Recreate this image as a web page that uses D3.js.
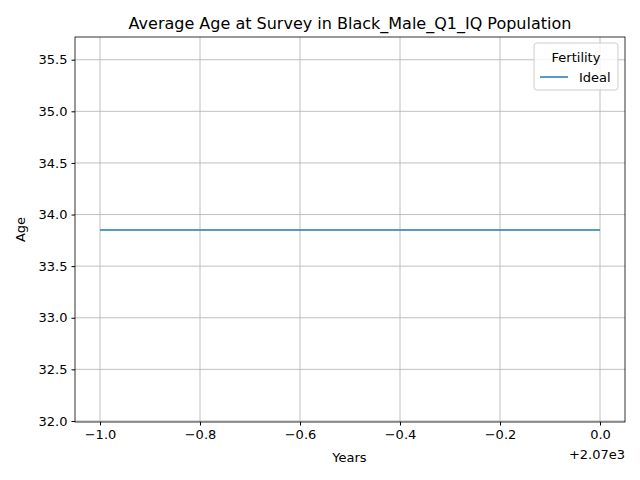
<!DOCTYPE html>
<html><head><meta charset="utf-8">
<script src="https://cdn.jsdelivr.net/npm/d3@7"></script>
<style>body{margin:0;background:#fff}text{font-family:"DejaVu Sans",sans-serif;fill:#000}</style>
</head><body><svg id="c" width="640" height="480"></svg>
<script>
const years = [2069, 2070];
const ideal = [33.85, 33.85];
const xTicks = [-1.0, -0.8, -0.6, -0.4, -0.2, 0.0];
const yTicks = [32.0, 32.5, 33.0, 33.5, 34.0, 34.5, 35.0, 35.5];
const offset = 2070;

const svg = d3.select("#c");
const L=75,R=625,T=37,B=422;
const x = d3.scaleLinear().domain([-1.05,0.05]).range([L,R]);
const y = d3.scaleLinear().domain([31.99,35.72]).range([B,T]);

const g = svg.append("g");
xTicks.forEach(t=>g.append("line").attr("x1",x(t)).attr("x2",x(t)).attr("y1",T).attr("y2",B).attr("stroke","#b0b0b0").attr("stroke-width",0.8));
yTicks.forEach(t=>g.append("line").attr("x1",L).attr("x2",R).attr("y1",y(t)).attr("y2",y(t)).attr("stroke","#b0b0b0").attr("stroke-width",0.8));

const xa = svg.append("g").attr("transform",`translate(0,${B})`)
  .call(d3.axisBottom(x).tickValues(xTicks).tickFormat(d3.format(".1f")).tickSize(3.5).tickPadding(4));
const ya = svg.append("g").attr("transform",`translate(${L},0)`)
  .call(d3.axisLeft(y).tickValues(yTicks).tickFormat(d3.format(".1f")).tickSize(3.5).tickPadding(4));
[xa,ya].forEach(a=>{a.select(".domain").remove();a.selectAll("text").style("font-size","13px").style("font-family","DejaVu Sans");});

svg.append("path").datum(years.map((yr,i)=>[yr-offset,ideal[i]]))
  .attr("d",d3.line().x(d=>x(d[0])).y(d=>y(d[1]))).attr("fill","none").attr("stroke","#1f77b4").attr("stroke-width",1.5);

svg.append("rect").attr("x",L).attr("y",T).attr("width",R-L).attr("height",B-T).attr("fill","none").attr("stroke","#000").attr("stroke-width",0.8);

svg.append("text").attr("x",R).attr("y",459).attr("text-anchor","end").style("font-size","13px").text("+2.07e3");
svg.append("text").attr("x",(L+R)/2-0.5).attr("y",462).attr("text-anchor","middle").style("font-size","13px").text("Years");
svg.append("text").attr("transform",`translate(25,${(T+B)/2}) rotate(-90)`).attr("text-anchor","middle").style("font-size","13px").text("Age");
svg.append("text").attr("x",(L+R)/2).attr("y",29).attr("text-anchor","middle").style("font-size","16px").text("Average Age at Survey in Black_Male_Q1_IQ Population");

const lg = svg.append("g");
lg.append("rect").attr("x",534).attr("y",43).attr("width",84).attr("height",47).attr("rx",3).attr("fill","#fff").attr("fill-opacity",0.8).attr("stroke","#ccc");
lg.append("text").attr("x",576).attr("y",62).attr("text-anchor","middle").style("font-size","13px").text("Fertility");
lg.append("line").attr("x1",540).attr("x2",568).attr("y1",77).attr("y2",77).attr("stroke","#1f77b4").attr("stroke-width",1.5);
lg.append("text").attr("x",579).attr("y",82).style("font-size","13px").text("Ideal");
</script></body></html>
